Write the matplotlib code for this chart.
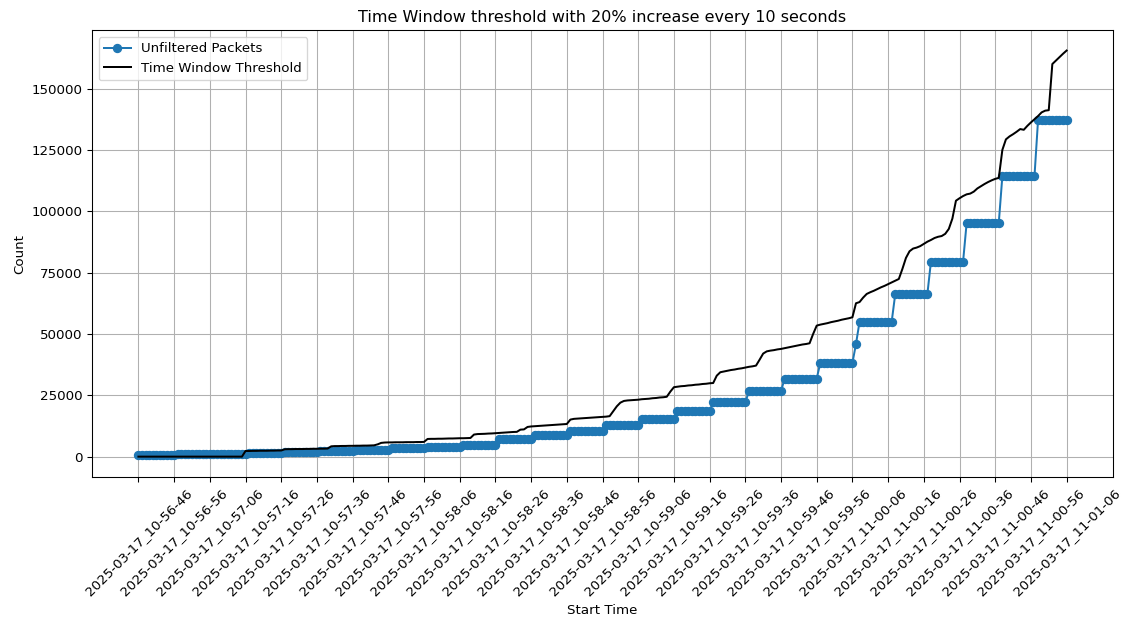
import matplotlib
matplotlib.use("Agg")
import matplotlib.pyplot as plt
import numpy as np
import pandas as pd

# one sample per second, 10-56-46 .. 11-01-06
start_times = pd.date_range("2025-03-17 10:56:46", "2025-03-17 11:01:06", freq="s")
time_labels = [t.strftime("%Y-%m-%d_%H-%M-%S") for t in start_times]

# cumulative unfiltered packet count per second
unfiltered_packets = (
    [800] * 11 +
    [1000] * 10 +
    [1200] * 10 +
    [1600] * 10 +
    [2000] * 10 +
    [2400] * 10 +
    [2900] * 10 +
    [3500] * 10 +
    [4000] * 10 +
    [4900] * 10 +
    [7300] * 10 +
    [8800] * 10 +
    [10600] * 10 +
    [12700] * 10 +
    [15400] * 10 +
    [18400] * 10 +
    [22100] * 10 +
    [26600] * 10 +
    [31800] * 10 +
    [38200] * 10 +
    [45900] + [55000] * 10 +
    [66300] * 10 +
    [79500] * 10 +
    [95300] * 10 +
    [114300] * 10 +
    [137200] * 9
)

# threshold per second
window_threshold = (
    [0] * 30 +
    [2300, 2300, 2350, 2350, 2400, 2400, 2400, 2450, 2450, 2500, 2500] +
    [3000, 3050, 3050, 3100, 3100, 3100, 3150, 3150, 3200, 3200, 3250, 3250, 3300] +
    [4200, 4300, 4300, 4350, 4350, 4400, 4400, 4450, 4450, 4500, 4500, 4550, 4600] +
    [5000, 5600, 5750, 5800, 5800, 5850, 5850, 5850, 5900, 5900, 5900, 5950, 5950, 6000] +
    [7200, 7250, 7250, 7300, 7300, 7350, 7400, 7400, 7450, 7500, 7500, 7550, 7600] +
    [9000, 9200, 9250, 9300, 9400, 9450, 9550, 9650, 9750, 9850, 9950, 10050, 10100] +
    [11000, 11100, 12100, 12300, 12400, 12500, 12600, 12700, 12800, 12900, 13000, 13100, 13200, 13300] +
    [15100, 15400, 15500, 15600, 15700, 15800, 15900, 16000, 16100, 16200, 16300, 16500] +
    [18500, 20500, 22000, 22700, 22900, 23000, 23100, 23200, 23400, 23500, 23600, 23800, 23900, 24100, 24200, 24400] +
    [26500, 28300, 28500, 28700, 28800, 29000, 29100, 29300, 29400, 29600, 29700, 29900, 30000] +
    [33000, 34400, 34700, 35000, 35300, 35500, 35800, 36000, 36300, 36600, 36800, 37100] +
    [39500, 42000, 42900, 43200, 43400, 43700, 43900, 44200, 44500, 44800, 45100, 45400, 45700, 45900, 46200] +
    [50000, 53400, 53800, 54100, 54400, 54800, 55100, 55400, 55800, 56100, 56400, 56800] +
    [62500, 63000, 64800, 66300, 67000, 67600, 68300, 69000, 69600, 70300, 71000, 71700, 72400] +
    [76500, 81000, 83700, 84800, 85200, 85800, 86700, 87600, 88300, 89100, 89600, 89900, 90800, 92800] +
    [97000, 104300, 105300, 106200, 106900, 107200, 108000, 109300, 110200, 111100, 111900, 112600, 113200, 113600] +
    [125000, 129300, 130500, 131400, 132400, 133500, 133200, 134800, 136200, 137500, 138800, 140300, 141000, 141200] +
    [160000, 161400, 162800, 164200, 165500]
)

x = np.arange(len(time_labels))

fig, ax = plt.subplots(figsize=(1122 / 96, 617 / 96), dpi=96)
fig.subplots_adjust(left=0.082, right=0.992, top=0.951, bottom=0.227)
ax.plot(x, unfiltered_packets, marker='o', label='Unfiltered Packets')
ax.plot(x, window_threshold, color='black', label='Time Window Threshold')

ax.set_xticks(x[::10])
ax.set_xticklabels(time_labels[::10], rotation=45)
ax.set_title('Time Window threshold with 20% increase every 10 seconds')
ax.set_xlabel('Start Time')
ax.set_ylabel('Count')
ax.legend(loc='upper left')
ax.grid(True)

plt.savefig('out.png', dpi=96)
